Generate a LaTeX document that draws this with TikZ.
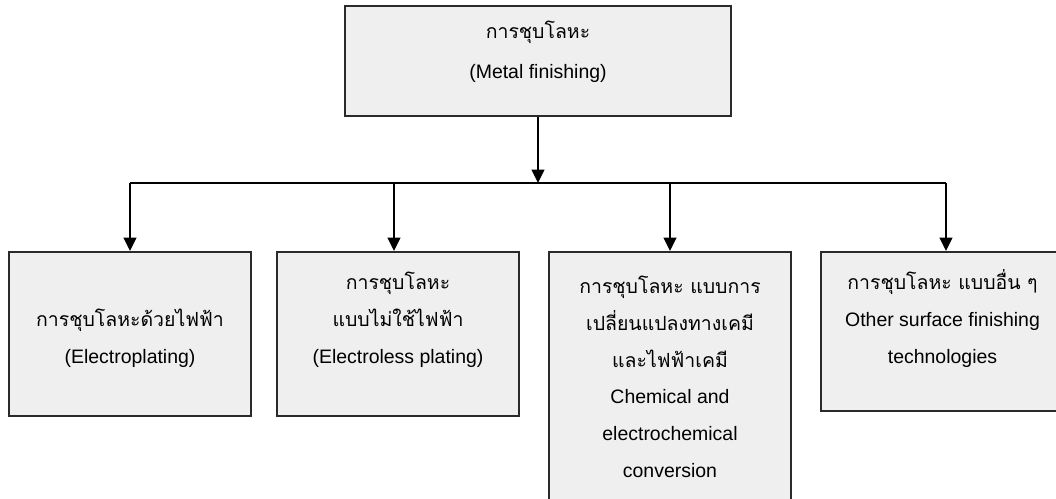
\documentclass[tikz,border=0pt]{standalone}
\usepackage{fontspec}
\setmainfont{Liberation Sans}
\newfontfamily\thaifont[Script=Thai]{Loma}
\usetikzlibrary{arrows.meta}
\definecolor{boxfill}{HTML}{EFEFEF}
\definecolor{boxline}{HTML}{2A2A2A}
\tikzset{
  box/.style={draw=boxline, fill=boxfill, line width=1.5pt, inner sep=0pt},
  txt/.style={inner sep=0pt, anchor=base, align=center, text=black,
    font=\fontsize{14.6pt}{27.5pt}\selectfont},
  conn/.style={line width=1.4pt, draw=black},
  arr/.style={conn, -{Triangle[length=10pt,width=9.5pt]}},
}
\begin{document}
\begin{tikzpicture}[x=0.75pt,y=-0.75pt]
\useasboundingbox (0,0) rectangle (1056,499);
\clip (0,0) rectangle (1056,499);
\fill[white] (0,0) rectangle (1056,499);

\node[box, minimum width=289.5pt, minimum height=82.5pt] (top) at (538,61) {};
\node[box, minimum width=181.5pt, minimum height=123pt] (b1) at (130,334) {};
\node[box, minimum width=181.5pt, minimum height=123pt] (b2) at (398,334) {};
\node[box, minimum width=181.5pt, minimum height=192pt] (b3) at (670,380) {};
\node[box, minimum width=182.25pt, minimum height=119.25pt] (b4) at (942.5,331.5) {};

% text nodes: anchor=base sits on the baseline of the last line
\node[txt, font=\fontsize{14.6pt}{30pt}\selectfont] (ttop) at (538,79)
  {{\thaifont การชุบโลหะ}\\(Metal finishing)};
\node[txt] (t1) at (130,363)
  {{\thaifont การชุบโลหะด้วยไฟฟ้า}\\(Electroplating)};
\node[txt] (t2) at (398,363)
  {{\thaifont การชุบโลหะ}\\{\thaifont แบบไม่ใช้ไฟฟ้า}\\(Electroless plating)};
\node[txt] (t3) at (670,477)
  {{\thaifont การชุบโลหะ แบบการ}\\{\thaifont เปลี่ยนแปลงทางเคมี}\\{\thaifont และไฟฟ้าเคมี}\\Chemical and\\electrochemical\\conversion};
\node[txt] (t4) at (942.5,363)
  {{\thaifont การชุบโลหะ แบบอื่น ๆ}\\Other surface finishing\\technologies};

\coordinate (j) at (538,183);
\coordinate (c1) at (130,183);
\coordinate (c2) at (394,183);
\coordinate (c3) at (670,183);
\coordinate (c4) at (946,183);

\draw[arr] (top.south) -- (j);
\draw[conn] (c1) -- (c4);
\draw[arr] (c1) -- (c1 |- b1.north);
\draw[arr] (c2) -- (c2 |- b2.north);
\draw[arr] (c3) -- (c3 |- b3.north);
\draw[arr] (c4) -- (c4 |- b4.north);
\end{tikzpicture}
\end{document}
